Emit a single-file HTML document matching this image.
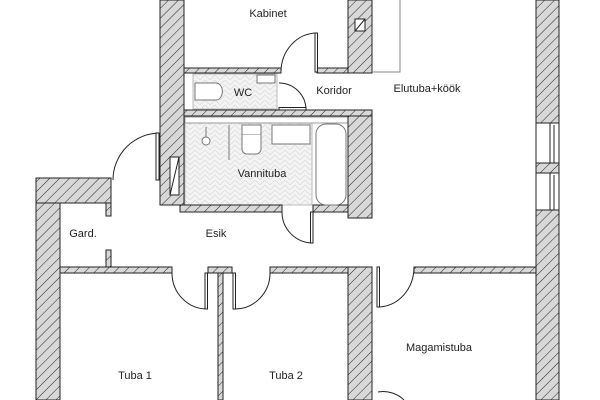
<!DOCTYPE html>
<html><head><meta charset="utf-8"><style>
html,body{margin:0;padding:0;background:#fff;}
svg{display:block;}
text{font-family:"Liberation Sans","DejaVu Sans",sans-serif;font-size:11px;fill:#222;}
</style></head><body>
<svg width="600" height="400" viewBox="0 0 600 400" xmlns="http://www.w3.org/2000/svg">
<defs>
<pattern id="h" patternUnits="userSpaceOnUse" width="7" height="7" patternTransform="rotate(45)">
<rect width="7" height="7" fill="#d8d8d8"/>
<line x1="0" y1="0" x2="0" y2="7" stroke="#222" stroke-width="1"/>
</pattern>
<pattern id="hb" patternUnits="userSpaceOnUse" width="10" height="10">
<rect width="10" height="10" fill="#f4f4f4"/>
<path d="M0 5 L5 0 L10 5 M0 10 L5 5 L10 10" stroke="#ddd" fill="none" stroke-width="0.8"/>
</pattern>
</defs>
<g stroke="#222" stroke-width="1">
<!-- floors -->
<rect x="193" y="74" width="84" height="35" fill="url(#hb)" stroke="#bbb"/>
<rect x="185" y="123" width="127" height="82" fill="url(#hb)" stroke="#bbb"/>
<rect x="185" y="117" width="163" height="6" fill="#fff" stroke="#999"/>
<!-- walls -->
<rect x="160" y="0" width="24" height="205" fill="url(#h)"/>
<rect x="184" y="68" width="97" height="5" fill="url(#h)"/>
<rect x="317" y="68" width="31" height="5" fill="url(#h)"/>
<rect x="348" y="0" width="24" height="73" fill="url(#h)"/>
<rect x="355" y="19" width="10" height="12" fill="#fff"/>
<line x1="355" y1="31" x2="365" y2="19"/>
<path d="M372 72 H400 V0" fill="none" stroke="#888"/>
<rect x="184" y="110" width="188" height="6" fill="url(#h)"/>
<rect x="348" y="116" width="24" height="102" fill="url(#h)"/>
<rect x="180" y="205" width="102" height="7" fill="url(#h)"/>
<rect x="313" y="205" width="35" height="7" fill="url(#h)"/>
<rect x="36" y="178" width="75" height="25" fill="url(#h)"/>
<rect x="36" y="203" width="24" height="197" fill="url(#h)"/>
<rect x="106" y="203" width="5" height="13" fill="url(#h)"/>
<rect x="106" y="250" width="5" height="17" fill="url(#h)"/>
<rect x="60" y="267" width="112" height="6" fill="url(#h)"/>
<rect x="208" y="267" width="24" height="6" fill="url(#h)"/>
<rect x="218" y="273" width="5" height="127" fill="url(#h)"/>
<rect x="270" y="267" width="78" height="6" fill="url(#h)"/>
<rect x="348" y="267" width="24" height="133" fill="url(#h)"/>
<rect x="414" y="267" width="122" height="6" fill="url(#h)"/>
<rect x="536" y="0" width="23" height="123" fill="url(#h)"/>
<rect x="536" y="163" width="23" height="10" fill="url(#h)"/>
<rect x="536" y="210" width="23" height="190" fill="url(#h)"/>
<!-- windows -->
<rect x="536" y="123" width="23" height="40" fill="#fff"/>
<rect x="536" y="173" width="23" height="37" fill="#fff"/>
<line x1="550" y1="123" x2="550" y2="163"/><line x1="554" y1="125" x2="554" y2="163"/>
<line x1="550" y1="173" x2="550" y2="210"/><line x1="554" y1="175" x2="554" y2="210"/>
<!-- electrical box -->
<rect x="170" y="157" width="9" height="38" fill="#fff"/>
<line x1="170" y1="195" x2="179" y2="157"/>
<!-- doors -->
<g fill="none">
<path d="M281 72 A36 39 0 0 1 317 33"/><rect x="315" y="33" width="2.5" height="39" fill="#fff"/>
<path d="M279 83 A27 27 0 0 1 306 110"/><rect x="279" y="107.5" width="27" height="2.5" fill="#fff"/>
<path d="M282 212 A31 31 0 0 0 312 243"/><rect x="310.5" y="212" width="2.5" height="31" fill="#fff"/>
<path d="M160 133 A47 47 0 0 0 113 180"/><rect x="156" y="133" width="3" height="47" fill="#fff"/>
<path d="M172 273 A35 36 0 0 0 207 309"/><rect x="205" y="273" width="2.5" height="36" fill="#fff"/>
<path d="M270 273 A35 36 0 0 1 235 309"/><rect x="233" y="273" width="2.5" height="36" fill="#fff"/>
<path d="M414 267 A36 40 0 0 1 378 307"/><rect x="377" y="267" width="2.5" height="40" fill="#fff"/>
<path d="M378 392 A30 30 0 0 1 404 400"/>
</g>
<!-- fixtures -->
<g fill="#fff" stroke="#777">
<path d="M195 83 H216 A6 8 0 0 1 216 100 H195 Z"/>
<rect x="257" y="75" width="18" height="8"/>
<circle cx="206" cy="141" r="4"/><line x1="206" y1="127" x2="206" y2="137"/>
<line x1="229" y1="125" x2="229" y2="160"/>
<rect x="242" y="125" width="19" height="10"/><path d="M242 135 V149 A5 5 0 0 0 247 154 H256 A5 5 0 0 0 261 149 V135"/>
<rect x="272" y="125" width="38" height="19"/>
<rect x="316" y="124" width="30" height="81" rx="10"/>
</g>
</g>
<text x="268" y="17" text-anchor="middle">Kabinet</text>
<text x="243" y="96" text-anchor="middle">WC</text>
<text x="334" y="94" text-anchor="middle">Koridor</text>
<text x="427" y="92" text-anchor="middle">Elutuba+köök</text>
<text x="262" y="177" text-anchor="middle">Vannituba</text>
<text x="83" y="237" text-anchor="middle">Gard.</text>
<text x="216" y="237" text-anchor="middle">Esik</text>
<text x="135" y="379" text-anchor="middle">Tuba 1</text>
<text x="286" y="379" text-anchor="middle">Tuba 2</text>
<text x="439" y="351" text-anchor="middle">Magamistuba</text>
</svg>
</body></html>
